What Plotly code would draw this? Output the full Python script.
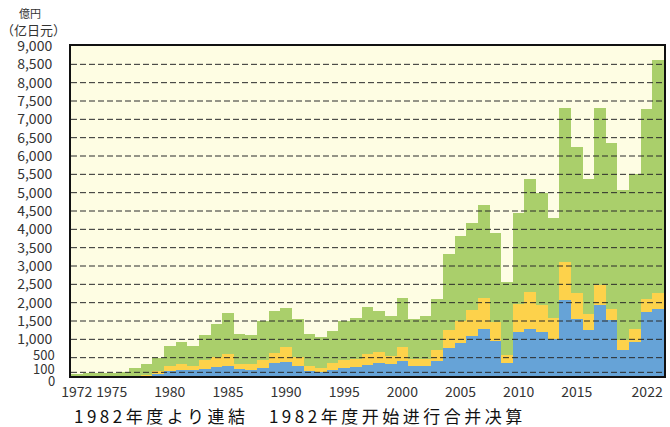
import plotly.graph_objects as go

years = list(range(1972, 2023))

blue = [0, 0, 0, 0, 0, 0, 0, 50, 130, 155, 155, 190, 245, 285, 200, 170, 225, 345, 390, 280,
        145, 120, 170, 220, 255, 300, 355, 325, 420, 265, 280, 420, 755, 910, 1090, 1280, 955, 365,
        1210, 1280, 1210, 1010, 2070, 1560, 1255, 1935, 1525, 710, 935, 1745, 1825]
yellow = [0, 0, 0, 0, 0, 0, 30, 90, 130, 170, 130, 255, 270, 315, 135, 165, 220, 295, 410, 235,
          125, 95, 175, 225, 210, 300, 290, 230, 380, 190, 185, 290, 500, 600, 710, 855, 525, 205,
          745, 1010, 725, 580, 1035, 700, 435, 535, 300, 260, 345, 355, 435]
green = [50, 70, 70, 80, 110, 210, 290, 360, 560, 595, 545, 675, 905, 1110, 805, 775, 1045, 1145, 1050, 1040,
         870, 860, 895, 1065, 1105, 1275, 1120, 1090, 1335, 1095, 1170, 1390, 2060, 2305, 2370, 2525, 2420, 1995,
         2500, 3080, 3060, 2730, 4195, 3985, 3680, 4830, 4525, 4100, 4225, 5180, 6350]

x_tick_labels = ["1972", "1975", "1980", "1985", "1990", "1995", "2000", "2005", "2010", "2015", "2022"]
y_tick_values = [1000, 1500, 2000, 2500, 3000, 3500, 4000, 4500, 5000, 5500, 6000, 6500,
                 7000, 7500, 8000, 8500, 9000]
y_small_labels = [0, 100, 500]
grid_values = [100, 500, 1000, 1500, 2000, 2500, 3000, 3500, 4000, 4500, 5000, 5500, 6000,
               6500, 7000, 7500, 8000, 8500]

unit_label = "億円"
unit_label_cn = "（亿日元）"
footnote = "1982年度より連結　1982年度开始进行合并决算"

FONT = "Noto Sans CJK JP"
TXT = "#333333"

fig = go.Figure()
for vals, col in [(blue, "#66A3D7"), (yellow, "#FDD24B"), (green, "#AACF6B")]:
    fig.add_trace(go.Bar(x=years, y=vals, marker=dict(color=col, line=dict(width=0)),
                         width=1.0, showlegend=False))

tickvals_x = []
for t in x_tick_labels:
    v = int(t)
    if v == years[-1]:
        v = v - 0.95
    tickvals_x.append(v)

fig.update_layout(
    barmode="stack", bargap=0,
    width=670, height=427,
    margin=dict(l=71, r=4, t=46, b=51),
    paper_bgcolor="white", plot_bgcolor="#FEFDE3",
    font=dict(family=FONT, size=14, color=TXT),
    xaxis=dict(range=[1971.5, 2022.5], tickmode="array", tickvals=tickvals_x, ticktext=x_tick_labels,
               showgrid=False, showline=True, linecolor="#111", linewidth=2, mirror=True,
               ticks="", ticklabelstandoff=2, tickfont=dict(size=14, color=TXT), zeroline=False),
    yaxis=dict(range=[0, 9000], tickmode="array", tickvals=y_tick_values,
               ticktext=[f"{v:,}" for v in y_tick_values],
               showgrid=False, showline=True, linecolor="#111", linewidth=2, mirror=True,
               ticks="", ticklabelstandoff=14, tickfont=dict(size=14, color=TXT), zeroline=False),
)

shifts = {0: -4, 100: 4, 500: 3}
for v in y_small_labels:
    fig.add_annotation(x=0, xref="paper", y=v, yref="y", text=f"{v:,}", showarrow=False,
                       xanchor="right", yanchor="middle", xshift=-14, yshift=shifts[v],
                       font=dict(family=FONT, size=13, color=TXT))

for g in grid_values:
    fig.add_shape(type="line", xref="paper", x0=0, x1=1, yref="y", y0=g, y1=g,
                  line=dict(color="#2a2a2a", width=1, dash="6px,3px"), layer="above")

fig.add_annotation(x=0, xref="paper", y=1, yref="paper", text=unit_label, showarrow=False,
                   xanchor="center", yanchor="middle", xshift=-41, yshift=33,
                   font=dict(family=FONT, size=11, color=TXT))
fig.add_annotation(x=0, xref="paper", y=1, yref="paper", text=unit_label_cn, showarrow=False,
                   xanchor="center", yanchor="middle", xshift=-38, yshift=17,
                   font=dict(family=FONT, size=13, color=TXT))
fig.add_annotation(x=0, xref="paper", y=0, yref="paper",
                   text='<span style="letter-spacing:3.5px">' + footnote + '</span>',
                   showarrow=False, xanchor="left", yanchor="middle", xshift=1, yshift=-39,
                   font=dict(family=FONT, size=17, color="#111"))

fig.write_html("out.html", config={"displayModeBar": False},
               post_script="document.body.style.margin='0';")
